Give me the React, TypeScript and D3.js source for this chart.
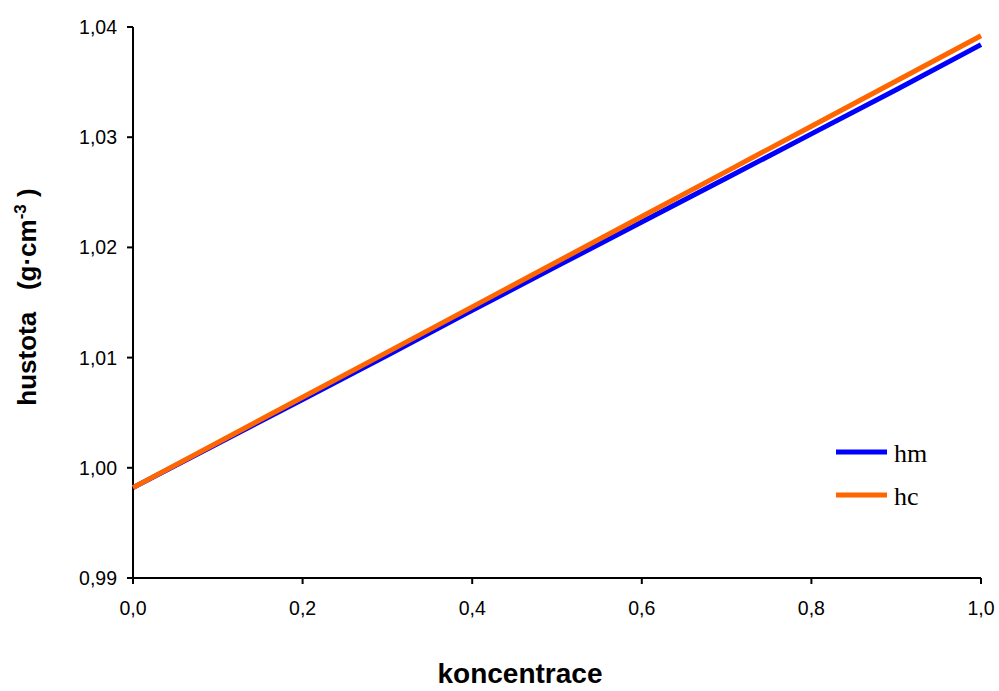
import React from "react";
import * as d3 from "d3";

// koncentrace (x) and the two density series
const conc = [0, 0.1, 0.2, 0.3, 0.4, 0.5, 0.6, 0.7, 0.8, 0.9, 1.0];
const hm = [0.9982, 1.0022, 1.0062, 1.0102, 1.0143, 1.0183, 1.0223, 1.0263, 1.0303, 1.0343, 1.0384];
const hc = [0.9982, 1.0023, 1.0064, 1.0105, 1.0146, 1.0187, 1.0228, 1.0269, 1.031, 1.0351, 1.0392];

const xTicks = [0, 0.2, 0.4, 0.6, 0.8, 1.0];
const yTicks = [0.99, 1.0, 1.01, 1.02, 1.03, 1.04];

const series = [
    { name: "hm", values: hm, color: "#0000ff" },
    { name: "hc", values: hc, color: "#ff6600" },
];

const W = 999, H = 691;
const fmt = (v: number, d: number) => v.toFixed(d).replace(".", ",");

export default function App() {
    const x = d3.scaleLinear().domain([0, 1]).range([133, 981]);
    const y = d3.scaleLinear().domain([0.99, 1.04]).range([578, 27]);

    const line = d3.line<number>()
        .x((d, i) => x(conc[i]))
        .y(d => y(d));

    const sans = "'Liberation Sans', Arial, sans-serif";

    return (
        <svg width={W} height={H} style={{ position: "absolute", left: 0, top: 0, background: "#fff" }}>
            {/* axes */}
            <line x1={x(0)} x2={x(0)} y1={y(1.04)} y2={y(0.99)} stroke="#000" strokeWidth={2} />
            <line x1={x(0)} x2={x(1)} y1={y(0.99)} y2={y(0.99)} stroke="#000" strokeWidth={2} />

            {yTicks.map(t => (
                <g key={"y" + t}>
                    <line x1={x(0) - 6} x2={x(0)} y1={y(t)} y2={y(t)} stroke="#000" strokeWidth={2} />
                    <text x={x(0) - 16} y={y(t)} textAnchor="end" dominantBaseline="central"
                        fontFamily={sans} fontSize={19.5} fill="#000">{fmt(t, 2)}</text>
                </g>
            ))}
            {xTicks.map(t => (
                <g key={"x" + t}>
                    <line x1={x(t)} x2={x(t)} y1={y(0.99)} y2={y(0.99) + 6} stroke="#000" strokeWidth={2} />
                    <text x={x(t)} y={y(0.99) + 37} textAnchor="middle"
                        fontFamily={sans} fontSize={19.5} fill="#000">{fmt(t, 1)}</text>
                </g>
            ))}

            {/* series */}
            {series.map(s => (
                <path key={s.name} d={line(s.values) || ""} fill="none" stroke={s.color} strokeWidth={5} />
            ))}

            {/* legend */}
            {series.map((s, i) => (
                <g key={"leg" + s.name} transform={`translate(836, ${452 + i * 43})`}>
                    <line x1={0} x2={51} y1={0} y2={0} stroke={s.color} strokeWidth={5} />
                    <text x={58} y={10} fontFamily="'Liberation Serif', 'Times New Roman', serif"
                        fontSize={26} fill="#000">{s.name}</text>
                </g>
            ))}

            {/* axis titles */}
            <text x={520} y={683} textAnchor="middle" fontFamily={sans} fontWeight="bold"
                fontSize={28} fill="#000">koncentrace</text>
            <text transform="translate(36, 297) rotate(-90)" textAnchor="middle" fontFamily={sans}
                fontWeight="bold" fontSize={26} fill="#000">
                {"hustota\u00a0\u00a0\u00a0(g·cm"}<tspan fontSize={17} dy={-10}>-3</tspan><tspan dy={10}>{"\u00a0)"}</tspan>
            </text>
        </svg>
    );
}
